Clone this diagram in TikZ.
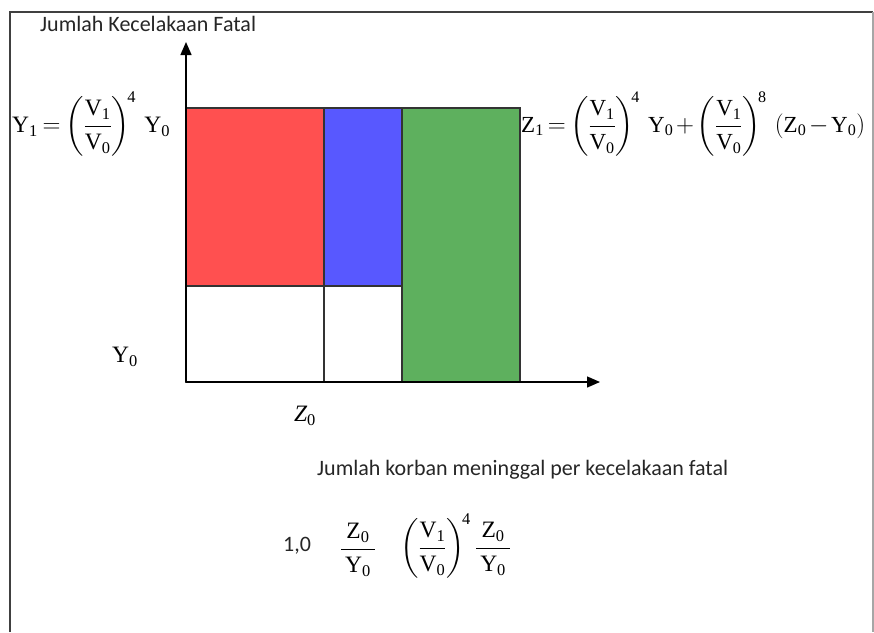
\documentclass[tikz,border=0pt]{standalone}
\usepackage{amsmath}
\usepackage{fontspec}
\setmainfont{Liberation Serif}
\newfontfamily\calib{Carlito}
\usetikzlibrary{arrows.meta}
\definecolor{cred}{RGB}{255,80,80}
\definecolor{cblue}{RGB}{88,88,255}
\definecolor{cgreen}{RGB}{94,176,94}
\newcommand{\rV}[1]{\mathrm{V}_{\mathrm{#1}}}
\newcommand{\rY}[1]{\mathrm{Y}_{\mathrm{#1}}}
\newcommand{\rZ}[1]{\mathrm{Z}_{\mathrm{#1}}}
\newcommand{\vfr}[1]{\left(\dfrac{\rV{1}}{\rV{0}}\right)^{\!\mathrm{#1}}}
\newcommand{\zyfr}{\dfrac{\,\rZ{0}\,}{\,\rY{0}\,}}
\begin{document}
\begin{tikzpicture}[x=1pt,y=-1pt,
  box/.style={draw=black!80, line width=1.2pt},
  axis/.style={line width=1.4pt, -{Triangle[length=13pt,width=11pt]}},
  lbl/.style={font=\calib\fontsize{22}{24}\selectfont, text=black!85, inner sep=0pt},
  eq/.style={font=\fontsize{23.5}{28}\selectfont, inner sep=0pt},
  eqs/.style={font=\fontsize{23}{28}\selectfont, inner sep=0pt}]
\useasboundingbox (0,0) rectangle (874,632);
% frame
\coordinate (fbl) at (10,632);
\coordinate (ftl) at (10,12);
\coordinate (ftr) at (873,12);
\coordinate (fbr) at (873,632);
\draw[black!75, line width=1.3pt] (fbl) -- (ftl) -- (ftr);
\draw[black!35, line width=1.3pt] (ftr) -- (fbr);
% cells
\filldraw[box, fill=cred] (186,108) rectangle (324,286);
\filldraw[box, fill=cblue] (324,108) rectangle (402,286);
\draw[box] (186,286) rectangle (324,382);
\draw[box] (324,286) rectangle (402,382);
\filldraw[box, fill=cgreen] (402,108) rectangle (520,382);
% axes
\coordinate (o) at (186,382);
\coordinate (ytip) at (186,42);
\coordinate (xtip) at (600,382);
\draw[axis] (o) -- (ytip);
\draw[axis] (o) -- (xtip);
% labels
\node[lbl, anchor=west] (ttl) at (40,24) {Jumlah Kecelakaan Fatal};
\node[eq, anchor=west] (y1) at (12,124) {\thickmuskip=3.5mu $\rY{1}=\vfr{4}\,\rY{0}$};
\node[eqs, anchor=west] (z1) at (521,124) {\thickmuskip=3mu\medmuskip=2mu $\rZ{1}=\vfr{4}\,\rY{0}+\vfr{8}\,(\rZ{0}-\rY{0})$};
\node[eq] (y0) at (125,357) {$\rY{0}$};
\node[eq] (z0) at (305,416) {$\mathit{Z}_{\mathrm{0}}$};
\node[lbl, anchor=west] (kor) at (317,470) {Jumlah korban meninggal per kecelakaan fatal};
\node[lbl, anchor=west] (one) at (283,546) {1,0};
\node[eq] (f1) at (358,550) {$\zyfr$};
\node[eq, anchor=west] (f2) at (400,546) {$\vfr{4}\zyfr$};
\end{tikzpicture}
\end{document}
